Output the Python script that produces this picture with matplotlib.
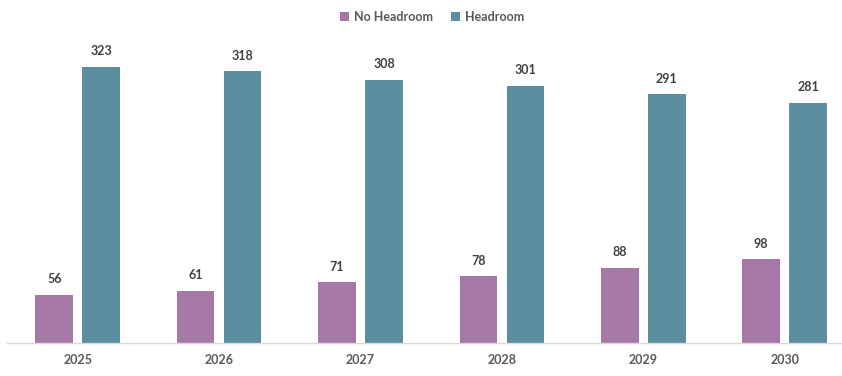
import matplotlib.pyplot as plt
import numpy as np

years = ['2025', '2026', '2027', '2028', '2029', '2030']
no_headroom = [56, 61, 71, 78, 88, 98]
headroom = [323, 318, 308, 301, 291, 281]

c_no = '#A678A6'
c_yes = '#5B8E9F'

plt.rcParams['font.family'] = ['Lato', 'DejaVu Sans']

fig = plt.figure(figsize=(8.42, 3.76), dpi=100)
ax = fig.add_axes([7 / 842, 33 / 376, 835 / 842, 343 / 376])

x = np.arange(len(years))
w = 0.265
off = 0.166
b1 = ax.bar(x - off, no_headroom, w, color=c_no, label='No Headroom')
b2 = ax.bar(x + off, headroom, w, color=c_yes, label='Headroom')

for bars, vals in [(b1, no_headroom), (b2, headroom)]:
    for r, v in zip(bars, vals):
        ax.annotate(str(v), (r.get_x() + r.get_width() / 2, v), xytext=(0, 7),
                    textcoords='offset points', ha='center', va='bottom',
                    fontsize=9, fontweight='bold', color='#404040')

ax.set_xlim(-0.5, -0.5 + 835 / 141.4)
ax.set_ylim(0, 401.4)
ax.set_xticks(x)
ax.set_xticklabels(years, fontsize=9, fontweight='bold', color='#595959')
ax.tick_params(axis='x', length=0, pad=8)
ax.set_yticks([])
for s in ['top', 'right', 'left']:
    ax.spines[s].set_visible(False)
ax.spines['bottom'].set_color('#d9d9d9')
ax.spines['bottom'].set_linewidth(1)

leg = fig.legend(loc='center', bbox_to_anchor=(432 / 842, 1 - 17 / 376), ncol=2,
                 frameon=False, handlelength=0.7, handleheight=0.7,
                 handletextpad=0.4, columnspacing=1.5,
                 prop={'size': 9, 'weight': 'bold'})
for t in leg.get_texts():
    t.set_color('#595959')

fig.savefig('out.png', dpi=100)
